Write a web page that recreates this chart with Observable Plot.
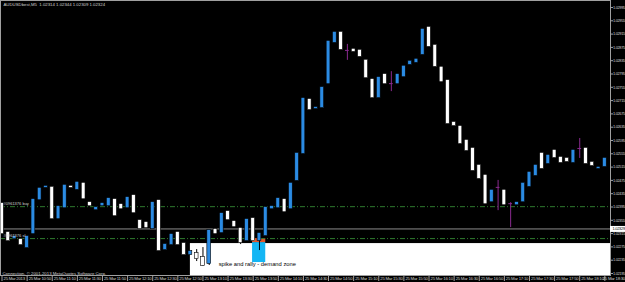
<!DOCTYPE html>
<html><head><meta charset="utf-8">
<script src="https://cdn.jsdelivr.net/npm/d3@7"></script>
<script src="https://cdn.jsdelivr.net/npm/@observablehq/plot@0.6"></script>
<style>
html,body{margin:0;padding:0;background:#000;}
#chart{width:625px;height:282px;overflow:hidden;}
svg{font-family:"Liberation Sans",Arial,sans-serif;}
g[aria-label="y-axis tick label"] text{letter-spacing:-0.3px;}
g.tlabels text{letter-spacing:-0.25px;}
</style></head><body><div id="chart"></div>
<script>
const symbolTitle = "AUDUSDbest,M5  1.02314 1.02344 1.02309 1.02324";
const copyright = "Connection, \u00a9 2001-2013 MetaQuotes Software Corp.";
const firstBar = "2013-03-25T10:30:00Z";
const barMinutes = 5;

const opens = [1.02405,1.02318,1.02300,1.02297,1.02273,1.02315,1.02417,1.02454,1.02454,1.02360,
1.02393,1.02457,1.02448,1.02466,1.02408,1.02387,1.02399,1.02399,1.02417,1.02402,
1.02393,1.02429,1.02354,1.02348,1.02330,1.02414,1.02267,1.02282,1.02318,1.02285,
1.02252,1.02255,1.02243,1.02225,1.02327,1.02318,1.02381,1.02351,1.02330,1.02294,
1.02360,1.02294,1.02309,1.02390,1.02393,1.02417,1.02390,1.02475,1.02556,1.02718,
1.02691,1.02694,1.02766,1.02890,1.02920,1.02866,1.02869,1.02866,1.02836,1.02778,
1.02724,1.02793,1.02766,1.02766,1.02787,1.02824,1.02830,1.02854,1.02935,1.02881,
1.02815,1.02775,1.02649,1.02637,1.02595,1.02571,1.02520,1.02490,1.02411,1.02454,
1.02445,1.02405,1.02402,1.02411,1.02457,1.02490,1.02556,1.02526,1.02565,1.02544,
1.02541,1.02529,1.02571,1.02571,1.02529,1.02511,1.02517];

const closes = [1.02315,1.02294,1.02306,1.02282,1.02306,1.02417,1.02451,1.02457,1.02360,1.02396,
1.02460,1.02454,1.02469,1.02420,1.02399,1.02393,1.02405,1.02420,1.02369,1.02390,
1.02423,1.02378,1.02330,1.02333,1.02408,1.02264,1.02282,1.02312,1.02282,1.02252,
1.02261,1.02240,1.02219,1.02324,1.02315,1.02375,1.02357,1.02336,1.02288,1.02357,
1.02294,1.02315,1.02393,1.02396,1.02420,1.02381,1.02466,1.02556,1.02721,1.02688,
1.02694,1.02754,1.02893,1.02920,1.02869,1.02866,1.02863,1.02848,1.02784,1.02724,
1.02784,1.02766,1.02766,1.02793,1.02818,1.02833,1.02839,1.02929,1.02878,1.02818,
1.02772,1.02646,1.02640,1.02586,1.02565,1.02505,1.02481,1.02405,1.02445,1.02454,
1.02402,1.02405,1.02408,1.02466,1.02499,1.02520,1.02511,1.02550,1.02544,1.02529,
1.02532,1.02565,1.02571,1.02526,1.02520,1.02514,1.02541];

const highs = [1.02405,1.02318,1.02306,1.02297,1.02306,1.02417,1.02451,1.02457,1.02454,1.02396,
1.02460,1.02457,1.02469,1.02466,1.02408,1.02393,1.02405,1.02420,1.02417,1.02402,
1.02423,1.02429,1.02354,1.02348,1.02408,1.02414,1.02282,1.02312,1.02318,1.02285,
1.02261,1.02267,1.02273,1.02324,1.02327,1.02375,1.02381,1.02351,1.02330,1.02357,
1.02360,1.02315,1.02393,1.02396,1.02420,1.02417,1.02466,1.02556,1.02721,1.02718,
1.02694,1.02754,1.02893,1.02920,1.02920,1.02884,1.02869,1.02866,1.02836,1.02778,
1.02784,1.02793,1.02802,1.02793,1.02818,1.02833,1.02839,1.02929,1.02935,1.02881,
1.02815,1.02775,1.02649,1.02637,1.02595,1.02571,1.02520,1.02490,1.02445,1.02475,
1.02445,1.02408,1.02408,1.02466,1.02499,1.02520,1.02556,1.02550,1.02565,1.02544,
1.02541,1.02565,1.02601,1.02571,1.02529,1.02514,1.02541];

const lows = [1.02315,1.02294,1.02300,1.02282,1.02273,1.02315,1.02417,1.02454,1.02360,1.02360,
1.02393,1.02454,1.02448,1.02420,1.02399,1.02387,1.02399,1.02399,1.02369,1.02390,
1.02393,1.02378,1.02330,1.02333,1.02330,1.02264,1.02267,1.02282,1.02282,1.02252,
1.02252,1.02231,1.02216,1.02219,1.02315,1.02318,1.02357,1.02336,1.02282,1.02294,
1.02294,1.02264,1.02309,1.02390,1.02393,1.02381,1.02390,1.02475,1.02556,1.02688,
1.02691,1.02694,1.02766,1.02890,1.02869,1.02836,1.02863,1.02848,1.02784,1.02724,
1.02724,1.02766,1.02742,1.02766,1.02787,1.02824,1.02830,1.02854,1.02878,1.02818,
1.02772,1.02646,1.02640,1.02586,1.02565,1.02505,1.02481,1.02405,1.02411,1.02384,
1.02402,1.02333,1.02402,1.02411,1.02457,1.02490,1.02511,1.02526,1.02544,1.02529,
1.02532,1.02529,1.02541,1.02526,1.02520,1.02511,1.02517];

const priceTicks = [1.02995,1.02955,1.02915,1.02875,1.02835,1.02795,1.02755,1.02715,1.02675,1.02635,
1.02595,1.02555,1.02515,1.02475,1.02435,1.02395,1.02355,1.02315,1.02275,1.02235,1.02195];

const timeTickLabels = ["25 Mar 2013","25 Mar 10:50","25 Mar 11:10","25 Mar 11:30","25 Mar 11:50",
"25 Mar 12:10","25 Mar 12:30","25 Mar 12:50","25 Mar 13:10","25 Mar 13:30","25 Mar 13:50",
"25 Mar 14:10","25 Mar 14:30","25 Mar 14:50","25 Mar 15:10","25 Mar 15:30","25 Mar 15:50",
"25 Mar 16:10","25 Mar 16:30","25 Mar 16:50","25 Mar 17:10","25 Mar 17:30","25 Mar 17:50",
"25 Mar 18:10","25 Mar 18:30"];
const timeTickBars = [0,4,8,12,16,20,24,28,32,36,40,44,48,52,56,60,64,68,72,76,80,84,88,92,96];

const bidPrice = 1.02329;
const orderLevels = [{price: 1.02396, label: "#0961376 buy"}, {price: 1.02300, label: "#0961376 sl"}];
const demandZone = {bar1: 30, bar2: 110, top: 1.02285, bottom: 1.02150};
const spikeZone = {bar1: 39.9, bar2: 42, top: 1.02288, bottom: 1.02228};
const spikeCap = {bar1: 39.9, bar2: 42, top: 1.02300, bottom: 1.02288};
const annotation = {bar: 34.5, price: 1.02222, label: "spike and rally - demand zone"};

// ---- build ----
const base = +new Date(firstBar);
const step = barMinutes * 60000;
const T = b => new Date(base + b * step);
const bars = opens.map((o, i) => ({time: T(i), open: o, close: closes[i], high: highs[i], low: lows[i]}));
const candles = bars.filter(d => d.open !== d.close);
const dojis = bars.filter(d => d.open === d.close);
const half = 0.3 * step;
const timeTicks = timeTickBars.map((b, i) => ({time: T(b), label: timeTickLabels[i]}));

const UP = "#2b8be3", DOWN = "#ffffff", DOJI = "#8a2a90", AXIS = "#d0d0d0";
const rectOf = z => ({x1: T(z.bar1), x2: T(z.bar2), y1: z.top, y2: z.bottom});

const chart = Plot.plot({
  width: 625, height: 282,
  marginLeft: 0, marginRight: 15, marginTop: 0, marginBottom: 7,
  style: {background: "#000", color: AXIS, fontFamily: "Liberation Sans, Arial, sans-serif", overflow: "visible"},
  x: {type: "utc", domain: [T(-0.24), T(96.9)]},
  y: {domain: [1.02189, 1.03016]},
  marks: [
    Plot.rect([rectOf(demandZone)], {x1: "x1", x2: "x2", y1: "y1", y2: "y2", fill: "#ffffff", clip: true}),
    Plot.rect([rectOf(spikeZone)], {x1: "x1", x2: "x2", y1: "y1", y2: "y2", fill: "#14b6f4"}),
    Plot.rect([rectOf(spikeCap)], {x1: "x1", x2: "x2", y1: "y1", y2: "y2", fill: "#e2562a"}),
    Plot.ruleY(orderLevels, {y: "price", stroke: "#2e7a2e", strokeDasharray: "5,2,1,2"}),
    Plot.ruleY([bidPrice], {stroke: "#8c8c8c"}),
    Plot.ruleX(candles, {x: "time", y1: "low", y2: "high", stroke: "#000"}),
    Plot.rect(candles, {
      x1: d => new Date(+d.time - half), x2: d => new Date(+d.time + half),
      y1: "open", y2: "close",
      fill: d => d.close > d.open ? UP : DOWN,
      stroke: "#000", strokeWidth: 0.6, insetTop: -0.6, insetBottom: -0.6
    }),
    Plot.ruleX(dojis, {x: "time", y1: "low", y2: "high", stroke: DOJI}),
    Plot.ruleY(dojis, {y: "open", x1: d => new Date(+d.time - half), x2: d => new Date(+d.time + half), stroke: DOJI}),
    Plot.text(orderLevels, {y: "price", text: "label", frameAnchor: "left", textAnchor: "start", dx: 3, dy: -3, fill: AXIS, fontSize: 4}),
    Plot.text([annotation], {x: d => T(d.bar), y: "price", text: "label", textAnchor: "start", fill: "#000", fontSize: 5.8}),
    Plot.text([symbolTitle], {text: d => d, frameAnchor: "top-left", textAnchor: "start", lineAnchor: "top", dx: 3, dy: 2, fill: AXIS, fontSize: 4.3}),
    Plot.text([copyright], {text: d => d, frameAnchor: "bottom-left", textAnchor: "start", lineAnchor: "bottom", dx: 2, dy: -1, fill: AXIS, fontSize: 4.3}),
    Plot.frame({stroke: "#a0a0a0"}),
    Plot.axisY(priceTicks, {anchor: "right", tickSize: 2, tickPadding: 0.5, tickFormat: d => d.toFixed(5), fontSize: 3.9, fill: AXIS, stroke: "#a0a0a0", textAnchor: "start"}),
    Plot.axisX(timeTicks.map(d => d.time), {anchor: "bottom", tickSize: 6, tickFormat: () => "", stroke: "#a0a0a0"}),
    Plot.text(timeTicks.slice(0, -1), {x: "time", text: "label", frameAnchor: "bottom", textAnchor: "start", lineAnchor: "top", dx: 1.5, dy: 1.5, fill: AXIS, fontSize: 4.3, className: "tlabels"}),
    Plot.text(timeTicks.slice(-1), {text: "label", frameAnchor: "bottom-right", textAnchor: "end", lineAnchor: "top", dx: 14.5, dy: 1.5, fill: AXIS, fontSize: 4.3, className: "tlabels"}),
    Plot.ruleY([bidPrice], {x1: T(96.9), x2: T(99.5), stroke: "#ffffff", strokeWidth: 6}),
    Plot.text([bidPrice], {y: d => d, text: d => d.toFixed(5), frameAnchor: "right", textAnchor: "start", dx: 2, fill: "#000", fontSize: 3.9, className: "tlabels"})
  ]
});
document.getElementById("chart").appendChild(chart);
</script>
</body></html>
